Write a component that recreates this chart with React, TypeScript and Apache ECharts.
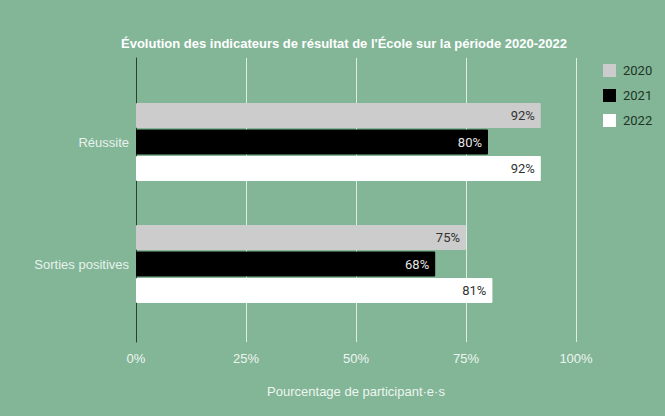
import React, { useEffect, useRef } from "react";
import * as echarts from "echarts";

const categories = ["Réussite", "Sorties positives"];
const years = ["2020", "2021", "2022"];
const values2020 = [92, 75];
const values2021 = [80, 68];
const values2022 = [92, 81];
const xTicks = [0, 25, 50, 75, 100];

const BG = "#82b697";

export default function App() {
  const ref = useRef<HTMLDivElement>(null);
  useEffect(() => {
    if (!ref.current) return;
    const chart = echarts.init(ref.current, null, { renderer: "svg" });
    const seriesData = [values2020, values2021, values2022];
    const colors = ["#cccccc", "#000000", "#ffffff"];
    const labelColors = ["#333333", "#e6e6e6", "#333333"];
    const font = "Roboto, Arial, sans-serif";
    const arial = "Liberation Sans, Arial, sans-serif";
    chart.setOption({
      animation: false,
      backgroundColor: BG,
      title: {
        text: "Évolution des indicateurs de résultat de l'École sur la période 2020-2022",
        left: 339,
        textAlign: "center",
        top: 32,
        textStyle: { color: "#ffffff", fontSize: 13, fontWeight: "bold", fontFamily: arial },
      },
      legend: {
        orient: "vertical",
        left: 598,
        top: 59,
        itemWidth: 13,
        itemHeight: 13,
        itemGap: 12,
        icon: "rect",
        data: years,
        textStyle: { color: "#1e3526", fontSize: 13, fontFamily: font, padding: [0, 0, 0, 2] },
      },
      grid: [
        { left: 136, right: 89, top: 58, bottom: 74 },
        { left: 136, right: 89, top: 81, bottom: 91 },
      ],
      xAxis: [
        {
          gridIndex: 0,
          type: "value",
          min: 0,
          max: 100,
          interval: 25,
          axisLine: { show: false },
          axisTick: { show: false },
          splitLine: { show: true, lineStyle: { color: "#dfece3", width: 1 } },
          axisLabel: {
            color: "#eef5f0",
            fontSize: 13,
            fontFamily: arial,
            margin: 10,
            formatter: (v: number) => (xTicks.includes(v) ? v + "%" : ""),
          },
          name: "Pourcentage de participant·e·s",
          nameLocation: "middle",
          nameGap: 43,
          nameTextStyle: { color: "#eef5f0", fontSize: 13, fontFamily: arial },
        },
        {
          gridIndex: 1,
          type: "value",
          min: 0,
          max: 100,
          show: false,
        },
      ],
      yAxis: [
        {
          gridIndex: 0,
          type: "category",
          data: categories,
          show: true,
          axisLine: { show: true, lineStyle: { color: "#2b3f31", width: 1 } },
          axisTick: { show: false },
          axisLabel: { show: false },
          splitLine: { show: false },
        },
        {
          gridIndex: 1,
          type: "category",
          data: categories,
          inverse: true,
          axisLine: { show: false },
          axisTick: { show: false },
          axisLabel: { color: "#e8f2ec", fontSize: 13, fontFamily: arial, margin: 7 },
        },
      ],
      series: years.map((y, i) => ({
        name: y,
        type: "bar",
        xAxisIndex: 1,
        yAxisIndex: 1,
        data: seriesData[i],
        barWidth: 25,
        barGap: "6%",
        itemStyle: { color: colors[i], borderRadius: 1 },
        label: {
          show: true,
          position: "insideRight",
          distance: 6,
          formatter: (p: any) => p.value + "%",
          color: labelColors[i],
          fontSize: 13,
          fontFamily: font,
        },
      })),
    });
    return () => chart.dispose();
  }, []);
  return <div ref={ref} style={{ width: 665, height: 416, position: "absolute", left: 0, top: 0 }} />;
}
